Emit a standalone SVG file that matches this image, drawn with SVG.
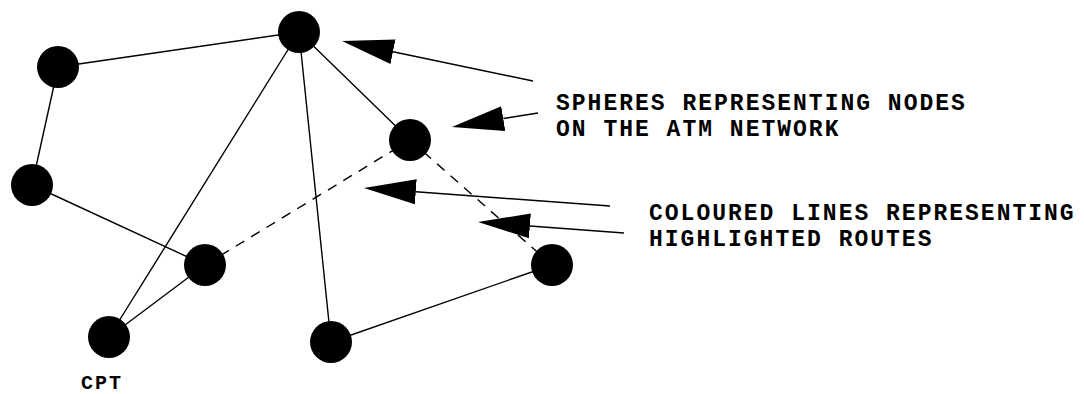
<svg xmlns="http://www.w3.org/2000/svg" width="1084" height="394" viewBox="0 0 1084 394">
  <style>
    .edge { stroke: #000; stroke-width: 1.4; fill: none; }
    .route { stroke: #000; stroke-width: 1.4; fill: none; stroke-dasharray: 10 8; }
    .pointer { stroke: #000; stroke-width: 1.5; fill: none; marker-end: url(#head); }
    .node { fill: #000; }
    .label { font-family: "Liberation Mono", "Courier New", monospace; font-weight: bold; font-size: 23px; letter-spacing: 2px; fill: #000; }
    .small { font-size: 20px; letter-spacing: 2px; }
  </style>
  <defs>
    <marker id="head" viewBox="0 -13 52 26" refX="0" refY="0" markerWidth="52" markerHeight="26" markerUnits="userSpaceOnUse" orient="auto">
      <path d="M0,-12.5 L52,0 L0,12.5 z" fill="#000"/>
    </marker>
  </defs>
  <rect width="1084" height="394" fill="#fff"/>

  <g id="connectors">
    <line class="edge" x1="58" y1="67" x2="299" y2="32"/>
    <line class="edge" x1="58" y1="67" x2="32" y2="185"/>
    <line class="edge" x1="32" y1="185" x2="205" y2="265"/>
    <line class="edge" x1="109" y1="337" x2="299" y2="32"/>
    <line class="edge" x1="109" y1="337" x2="205" y2="265"/>
    <line class="edge" x1="299" y1="32" x2="331" y2="342"/>
    <line class="edge" x1="299" y1="32" x2="410" y2="140"/>
    <line class="edge" x1="331" y1="342" x2="552" y2="265"/>
    <line class="route" x1="205" y1="265" x2="410" y2="140"/>
    <line class="route" x1="410" y1="140" x2="552" y2="265"/>
    <!-- callout pointers -->
    <line class="pointer" x1="533" y1="81" x2="393" y2="51.7"/>
    <line class="pointer" x1="538" y1="113" x2="503.3" y2="118.6"/>
    <line class="pointer" x1="610" y1="206" x2="415.8" y2="191.8"/>
    <line class="pointer" x1="624" y1="233" x2="529.9" y2="225.9"/>
  </g>

  <g id="node-top"><circle class="node" cx="299" cy="32" r="21"/></g>
  <g id="node-upper-left"><circle class="node" cx="58" cy="67" r="21"/></g>
  <g id="node-left"><circle class="node" cx="32" cy="185" r="21"/></g>
  <g id="node-middle"><circle class="node" cx="205" cy="265" r="21"/></g>
  <g id="node-cpt">
    <circle class="node" cx="109" cy="337" r="21"/>
    <text class="label small" x="81" y="389">CPT</text>
  </g>
  <g id="node-bottom"><circle class="node" cx="331" cy="342" r="21"/></g>
  <g id="node-right"><circle class="node" cx="552" cy="265" r="21"/></g>
  <g id="node-centre"><circle class="node" cx="410" cy="140" r="21"/></g>

  <g id="caption-spheres">
    <text class="label" x="556" y="110">SPHERES REPRESENTING NODES</text>
    <text class="label" x="556" y="136">ON THE ATM NETWORK</text>
  </g>
  <g id="caption-routes">
    <text class="label" x="649" y="220">COLOURED LINES REPRESENTING</text>
    <text class="label" x="649" y="246">HIGHLIGHTED ROUTES</text>
  </g>
</svg>
